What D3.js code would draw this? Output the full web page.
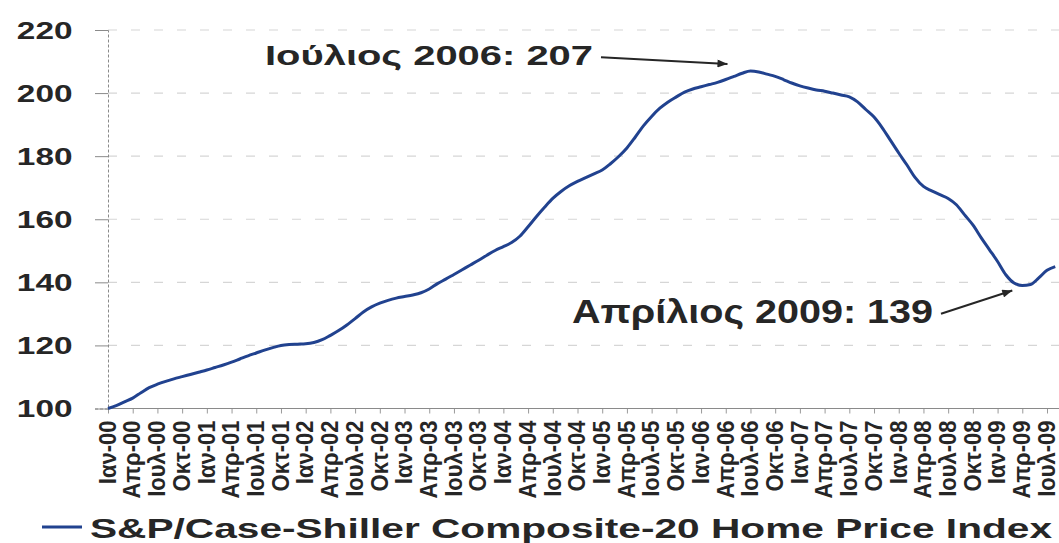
<!DOCTYPE html>
<html>
<head>
<meta charset="utf-8">
<script src="https://cdn.jsdelivr.net/npm/d3@7"></script>
<style>
  body { margin: 0; background: #fff; }
  text { font-family: "Liberation Sans", Arial, sans-serif; font-weight: bold; fill: #262626; }
</style>
</head>
<body>
<script>
// S&P/Case-Shiller 20-city index, monthly, Jan 2000 = 100
var v2000 = [100.0, 100.9, 102.1, 103.3, 105.0, 106.6, 107.7, 108.6, 109.4, 110.1, 110.8, 111.5];
var v2001 = [112.2, 113.0, 113.8, 114.7, 115.7, 116.7, 117.6, 118.5, 119.3, 120.0, 120.3, 120.4];
var v2002 = [120.5, 120.9, 121.8, 123.2, 124.7, 126.5, 128.5, 130.6, 132.2, 133.4, 134.3, 135.0];
var v2003 = [135.5, 136.0, 136.7, 137.9, 139.6, 141.0, 142.5, 144.0, 145.5, 147.0, 148.6, 150.1];
var v2004 = [151.3, 152.6, 154.6, 157.6, 160.8, 163.8, 166.6, 168.8, 170.6, 172.0, 173.2, 174.4];
var v2005 = [175.6, 177.6, 179.9, 182.6, 186.0, 189.6, 192.6, 195.2, 197.2, 198.8, 200.3, 201.3];
var v2006 = [202.0, 202.7, 203.4, 204.3, 205.3, 206.3, 207.0, 206.7, 206.0, 205.3, 204.3, 203.2];
var v2007 = [202.3, 201.6, 201.0, 200.6, 200.0, 199.4, 198.8, 197.2, 194.8, 192.4, 189.0, 185.0];
var v2008 = [181.0, 177.2, 173.2, 170.4, 169.0, 167.8, 166.6, 164.6, 161.4, 158.2, 154.2, 150.4];
var v2009 = [146.6, 142.4, 139.8, 139.0, 139.3, 141.4, 143.8, 145.0];

var tickLabels = [
  'Ιαν-00', 'Απρ-00', 'Ιουλ-00', 'Οκτ-00', 'Ιαν-01', 'Απρ-01', 'Ιουλ-01', 'Οκτ-01',
  'Ιαν-02', 'Απρ-02', 'Ιουλ-02', 'Οκτ-02', 'Ιαν-03', 'Απρ-03', 'Ιουλ-03', 'Οκτ-03',
  'Ιαν-04', 'Απρ-04', 'Ιουλ-04', 'Οκτ-04', 'Ιαν-05', 'Απρ-05', 'Ιουλ-05', 'Οκτ-05',
  'Ιαν-06', 'Απρ-06', 'Ιουλ-06', 'Οκτ-06', 'Ιαν-07', 'Απρ-07', 'Ιουλ-07', 'Οκτ-07',
  'Ιαν-08', 'Απρ-08', 'Ιουλ-08', 'Οκτ-08', 'Ιαν-09', 'Απρ-09', 'Ιουλ-09'
];
var yTicks = [100, 120, 140, 160, 180, 200, 220];
var seriesName = 'S&P/Case-Shiller Composite-20 Home Price Index';

var values = [].concat(v2000, v2001, v2002, v2003, v2004, v2005, v2006, v2007, v2008, v2009);
var data = values.map(function(v, i) { return { m: i, v: v }; });

// the two points called out on the chart
var peak = { m: 78, name: 'Ιούλιος 2006' };
var trough = { m: 111, name: 'Απρίλιος 2009' };

var w = 1059,
    h = 543;
var lineColor = '#21428f';
var inkColor = '#262626';

var svg = d3.select('body')
    .append('svg')
    .attr('width', w)
    .attr('height', h)
    .style('display', 'block');

svg.append('rect').attr('width', w).attr('height', h).attr('fill', '#fff');

var x = d3.scaleLinear()
    .domain([0, (tickLabels.length - 1) * 3])
    .range([108, 1047]);
var y = d3.scaleLinear()
    .domain([100, 220])
    .range([408.5, 30]);

// faint dashed gridlines
svg.append('g')
    .selectAll('line')
    .data(yTicks.slice(1))
    .enter()
    .append('line')
    .attr('x1', x(0))
    .attr('x2', w)
    .attr('y1', function(d) { return y(d); })
    .attr('y2', function(d) { return y(d); })
    .attr('stroke', '#d6d6d6')
    .attr('stroke-width', 1.2)
    .attr('stroke-dasharray', '9,14');

// y axis
var yAxis = svg.append('g')
    .attr('transform', 'translate(' + x(0) + ',0)')
    .call(d3.axisLeft(y).tickValues(yTicks).tickSize(13).tickPadding(0));
yAxis.select('.domain')
    .attr('stroke', '#8a8a8a')
    .attr('stroke-dasharray', '3,2');
yAxis.selectAll('.tick line').attr('stroke', '#8a8a8a');
yAxis.selectAll('.tick text')
    .attr('x', -25)
    .attr('dy', '0.36em')
    .attr('transform', 'scale(1.42,1)')
    .style('font-size', '23.5px')
    .style('font-family', '"Liberation Sans", Arial, sans-serif')
    .style('font-weight', 'bold')
    .attr('fill', inkColor);

// x axis, one tick per quarter
var xAxis = svg.append('g')
    .attr('transform', 'translate(0,' + y(100) + ')')
    .call(d3.axisBottom(x)
        .tickValues(tickLabels.map(function(_, i) { return i * 3; }))
        .tickFormat(function(d, i) { return tickLabels[i]; })
        .tickSize(5));
xAxis.select('.domain').remove();
xAxis.append('line')
    .attr('x1', x(0))
    .attr('x2', w)
    .attr('stroke', '#8a8a8a');
xAxis.selectAll('.tick line').attr('stroke', '#9a9a9a');
xAxis.selectAll('.tick text')
    .attr('transform', 'rotate(-90) scale(1,1.1)')
    .attr('x', -12)
    .attr('y', 0)
    .attr('dy', '0.3em')
    .style('text-anchor', 'end')
    .style('font-size', '22px')
    .style('font-family', '"Liberation Sans", Arial, sans-serif')
    .style('font-weight', 'bold')
    .attr('fill', inkColor);

// index line
var line = d3.line()
    .x(function(d) { return x(d.m); })
    .y(function(d) { return y(d.v); })
    .curve(d3.curveMonotoneX);

svg.append('path')
    .datum(data)
    .attr('d', line)
    .attr('fill', 'none')
    .attr('stroke', lineColor)
    .attr('stroke-width', 3)
    .attr('stroke-linejoin', 'round');

// arrow callouts
svg.append('defs')
    .append('marker')
    .attr('id', 'arrow')
    .attr('viewBox', '0 0 10 8')
    .attr('refX', 10)
    .attr('refY', 4)
    .attr('markerWidth', 11)
    .attr('markerHeight', 8)
    .attr('markerUnits', 'userSpaceOnUse')
    .attr('orient', 'auto')
    .append('path')
    .attr('d', 'M0,0 L10,4 L0,8 Z')
    .attr('fill', inkColor);

var callout = function(pt, tx, ty, size, len, tip) {
    var label = pt.name + ': ' + d3.format('.0f')(values[pt.m]);
    svg.append('text')
        .attr('x', tx)
        .attr('y', ty)
        .attr('textLength', len)
        .attr('lengthAdjust', 'spacingAndGlyphs')
        .style('font-size', size + 'px')
        .text(label);
    svg.append('line')
        .attr('x1', tx + len + 8)
        .attr('y1', ty - size * 0.28)
        .attr('x2', x(pt.m) + tip[0])
        .attr('y2', y(values[pt.m]) + tip[1])
        .attr('stroke', inkColor)
        .attr('stroke-width', 2)
        .attr('marker-end', 'url(#arrow)');
};
callout(peak, 265, 65, 28, 328, [-23, -7]);
callout(trough, 572, 323, 33, 361, [-10, 5]);

// legend
var legend = svg.append('g').attr('transform', 'translate(0,527)');
legend.append('line')
    .attr('x1', 42)
    .attr('x2', 82)
    .attr('stroke', lineColor)
    .attr('stroke-width', 3);
legend.append('text')
    .attr('x', 90)
    .attr('y', 11)
    .attr('textLength', 962)
    .attr('lengthAdjust', 'spacingAndGlyphs')
    .style('font-size', '28px')
    .text(seriesName);
</script>
</body>
</html>
